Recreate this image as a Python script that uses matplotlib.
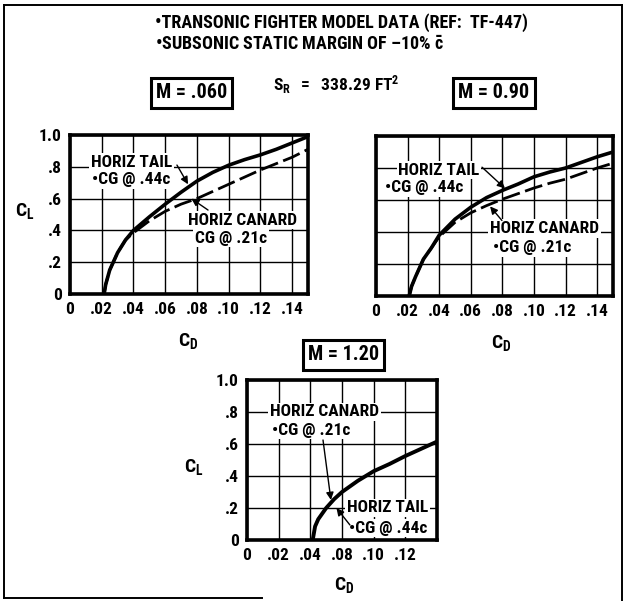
import numpy as np
import matplotlib
matplotlib.use("Agg")
import matplotlib.pyplot as plt
from matplotlib.lines import Line2D
from matplotlib import font_manager

# prefer a narrow bold face if one is installed
names = {f.name for f in font_manager.fontManager.ttflist}
face = 'Roboto'
for cand in ['Roboto Condensed', 'Liberation Sans Narrow', 'Open Sans Condensed']:
    if cand in names:
        face = cand
        break

plt.rcParams['font.family'] = [face, 'DejaVu Sans']
plt.rcParams['font.weight'] = 'bold'
plt.rcParams['mathtext.fontset'] = 'custom'
plt.rcParams['mathtext.rm'] = face + ':bold'
plt.rcParams['mathtext.it'] = face + ':bold'
plt.rcParams['mathtext.bf'] = face + ':bold'

# drag polars, CD vs CL
# M = .060
cd_tail_a = [0.0215, 0.0225, 0.025, 0.030, 0.035, 0.040, 0.050, 0.060, 0.070,
             0.080, 0.090, 0.100, 0.110, 0.120, 0.130, 0.140, 0.150]
cl_tail_a = [0.0, 0.06, 0.15, 0.26, 0.34, 0.40, 0.485, 0.565, 0.64,
             0.71, 0.765, 0.81, 0.845, 0.875, 0.91, 0.95, 0.99]
cd_can_a = [0.0215, 0.0225, 0.025, 0.030, 0.035, 0.040, 0.050, 0.060, 0.070,
            0.080, 0.090, 0.100, 0.110, 0.120, 0.130, 0.140, 0.150]
cl_can_a = [0.0, 0.06, 0.15, 0.26, 0.34, 0.385, 0.46, 0.52, 0.565,
            0.60, 0.645, 0.69, 0.735, 0.78, 0.82, 0.86, 0.91]
# M = 0.90
cd_tail_b = [0.021, 0.0225, 0.025, 0.030, 0.035, 0.040, 0.050, 0.060, 0.070,
             0.080, 0.090, 0.100, 0.110, 0.120, 0.130, 0.140, 0.150]
cl_tail_b = [0.0, 0.06, 0.12, 0.23, 0.30, 0.38, 0.48, 0.555, 0.615,
             0.66, 0.70, 0.745, 0.775, 0.80, 0.835, 0.87, 0.90]
cd_can_b = [0.021, 0.0225, 0.025, 0.030, 0.035, 0.040, 0.050, 0.060, 0.070,
            0.080, 0.090, 0.100, 0.110, 0.120, 0.130, 0.140, 0.150]
cl_can_b = [0.0, 0.06, 0.12, 0.23, 0.30, 0.37, 0.46, 0.52, 0.565,
            0.605, 0.64, 0.675, 0.705, 0.73, 0.765, 0.80, 0.83]
# M = 1.20 (tail and canard coincide)
cd_c = [0.0415, 0.043, 0.045, 0.050, 0.055, 0.060, 0.070, 0.080, 0.090,
        0.100, 0.110, 0.120]
cl_c = [0.0, 0.085, 0.13, 0.20, 0.255, 0.30, 0.37, 0.43, 0.475,
        0.525, 0.57, 0.615]

cl_ticks = [0, 0.2, 0.4, 0.6, 0.8, 1.0]
cl_labels = ['0', '.2', '.4', '.6', '.8', '1.0']
cd_ticks = [0, 0.02, 0.04, 0.06, 0.08, 0.10, 0.12, 0.14]
cd_labels = ['0', '.02', '.04', '.06', '.08', '.10', '.12', '.14']
cd_ticks_c = [0, 0.02, 0.04, 0.06, 0.08, 0.10]
cd_labels_c = ['0', '.02', '.04', '.08', '.10', '.12']

W, H = 628, 601
fig = plt.figure(figsize=(W / 100, H / 100), dpi=100)
fig.patch.set_facecolor('white')


def fx(px):
    return px / W


def fy(py):
    return 1 - py / H


def setup(ax, xmax, xt, xl, ylabels=True):
    ax.set_xlim(0, xmax)
    ax.set_ylim(0, 1.0)
    ax.set_xticks(xt)
    ax.set_xticklabels(xl)
    ax.set_yticks(cl_ticks)
    if ylabels:
        ax.set_yticklabels(cl_labels)
    else:
        ax.set_yticklabels([])
    ax.tick_params(length=0, labelsize=12.5, pad=6)
    ax.grid(True, color='black', lw=1.0)
    ax.set_axisbelow(True)
    for s in ax.spines.values():
        s.set_linewidth(2.6)


def note(ax, x, y, s):
    ax.text(x, y, s, ha='center', va='center', fontsize=12.5, zorder=5,
            bbox=dict(fc='white', ec='none', pad=1.2))


def arrow(ax, tail, head):
    ax.annotate('', xy=head, xytext=tail, zorder=6,
                arrowprops=dict(arrowstyle='-|>', lw=1.0, color='black',
                                mutation_scale=11, shrinkA=0, shrinkB=0))


ax1 = fig.add_axes([fx(70), fy(294), 238 / W, 159 / H])
ax2 = fig.add_axes([fx(376), fy(296), 237 / W, 160 / H])
ax3 = fig.add_axes([fx(247), fy(540), 190 / W, 160 / H])

setup(ax1, 0.15, cd_ticks, cd_labels)
setup(ax2, 0.15, cd_ticks, cd_labels, ylabels=False)
setup(ax3, 0.12, cd_ticks_c, cd_labels_c)

dash = (6.5, 2.0)
ax1.plot(cd_tail_a, cl_tail_a, color='black', lw=2.6, zorder=3, solid_capstyle='butt')
ax1.plot(cd_can_a, cl_can_a, color='black', lw=2.0, zorder=3, dashes=dash)
ax2.plot(cd_tail_b, cl_tail_b, color='black', lw=2.6, zorder=3, solid_capstyle='butt')
ax2.plot(cd_can_b, cl_can_b, color='black', lw=2.0, zorder=3, dashes=dash)
ax3.plot(cd_c, cl_c, color='black', lw=2.8, zorder=3, solid_capstyle='butt')

# labels on the M = .060 panel
note(ax1, 0.0388, 0.83, 'HORIZ TAIL')
note(ax1, 0.0384, 0.717, '\u2022CG @ .44c')
arrow(ax1, (0.0674, 0.811), (0.0744, 0.69))
note(ax1, 0.1087, 0.465, 'HORIZ CANARD')
note(ax1, 0.1015, 0.352, 'CG @ .21c')
arrow(ax1, (0.087, 0.528), (0.0765, 0.60))

# labels on the M = 0.90 panel
note(ax2, 0.0399, 0.786, 'HORIZ TAIL')
note(ax2, 0.0307, 0.679, '\u2022CG @ .44c')
arrow(ax2, (0.0671, 0.805), (0.0816, 0.673))
note(ax2, 0.1066, 0.421, 'HORIZ CANARD')
note(ax2, 0.099, 0.302, '\u2022CG @ .21c')
arrow(ax2, (0.0797, 0.472), (0.0722, 0.56))

# labels on the M = 1.20 panel
note(ax3, 0.049, 0.80, 'HORIZ CANARD')
note(ax3, 0.0404, 0.6875, '\u2022CG @ .21c')
arrow(ax3, (0.048, 0.625), (0.053, 0.25))
note(ax3, 0.0887, 0.20, 'HORIZ TAIL')
note(ax3, 0.0894, 0.075, '\u2022CG @ .44c')
arrow(ax3, (0.065, 0.094), (0.0565, 0.20))

# axis titles
cl_txt = r'$\mathrm{C_L}$'
cd_txt = r'$\mathrm{C_D}$'
fig.text(fx(25), fy(211), cl_txt, ha='center', va='center', fontsize=14)
fig.text(fx(188), fy(341), cd_txt, ha='center', va='center', fontsize=14)
fig.text(fx(501), fy(343), cd_txt, ha='center', va='center', fontsize=14)
fig.text(fx(194), fy(467), cl_txt, ha='center', va='center', fontsize=14)
fig.text(fx(344), fy(585), cd_txt, ha='center', va='center', fontsize=14)

# header
fig.text(fx(155), fy(23), '\u2022TRANSONIC FIGHTER MODEL DATA (REF:  TF-447)',
         ha='left', va='center', fontsize=13)
fig.text(fx(155), fy(45), '\u2022SUBSONIC STATIC MARGIN OF \u201310% $\\bar{\\mathrm{c}}$',
         ha='left', va='center', fontsize=13)
fig.text(fx(273), fy(85), r'$\mathrm{S_R\ \ =\ \ 338.29\ FT^2}$',
         ha='left', va='center', fontsize=12.5)

box = dict(boxstyle='square,pad=0.25', fc='white', ec='black', lw=2.2)
fig.text(fx(191.5), fy(93), 'M = .060', ha='center', va='center', fontsize=14.5, bbox=box)
fig.text(fx(494), fy(93), 'M = 0.90', ha='center', va='center', fontsize=14.5, bbox=box)
fig.text(fx(343.5), fy(355), 'M = 1.20', ha='center', va='center', fontsize=14.5, bbox=box)

# frame round the page
for xs, ys in [((4, 4), (5, 598)), ((4, 622), (5, 5)),
               ((622, 622), (5, 601)), ((4, 262), (598, 598))]:
    fig.add_artist(Line2D([fx(xs[0]), fx(xs[1])], [fy(ys[0]), fy(ys[1])],
                          color='black', lw=1.4, transform=fig.transFigure))

fig.savefig('out.png', dpi=100, facecolor='white')
